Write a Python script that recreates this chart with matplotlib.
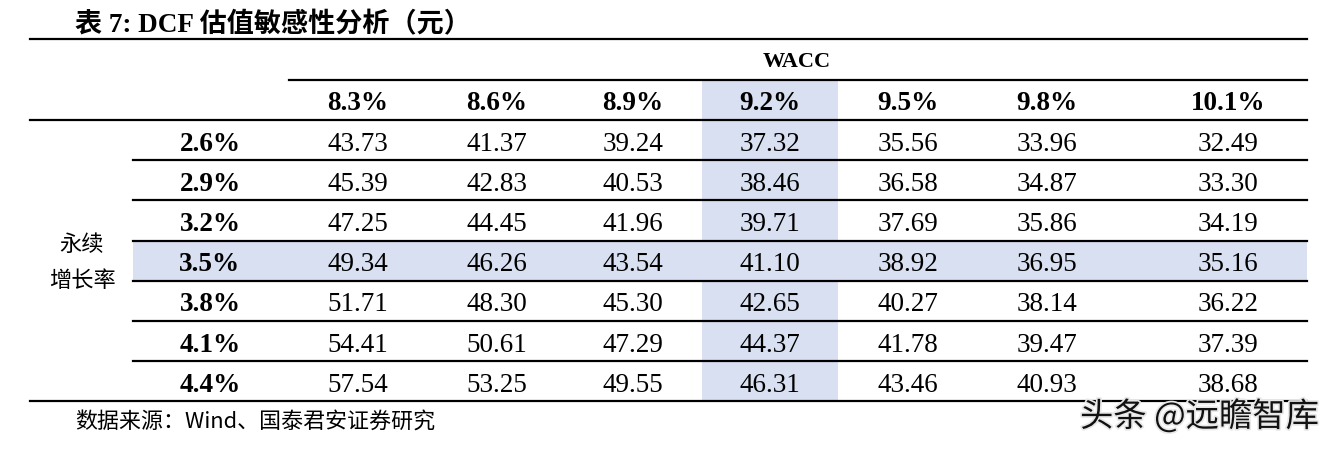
import matplotlib
matplotlib.use("Agg")
import matplotlib.pyplot as plt
from matplotlib.patches import Rectangle
import matplotlib.patheffects as pe

# ---- data ----
wacc_labels = ["8.3%", "8.6%", "8.9%", "9.2%", "9.5%", "9.8%", "10.1%"]
growth_labels = ["2.6%", "2.9%", "3.2%", "3.5%", "3.8%", "4.1%", "4.4%"]
values = [
    [43.73, 41.37, 39.24, 37.32, 35.56, 33.96, 32.49],
    [45.39, 42.83, 40.53, 38.46, 36.58, 34.87, 33.30],
    [47.25, 44.45, 41.96, 39.71, 37.69, 35.86, 34.19],
    [49.34, 46.26, 43.54, 41.10, 38.92, 36.95, 35.16],
    [51.71, 48.30, 45.30, 42.65, 40.27, 38.14, 36.22],
    [54.41, 50.61, 47.29, 44.37, 41.78, 39.47, 37.39],
    [57.54, 53.25, 49.55, 46.31, 43.46, 40.93, 38.68],
]
title = "表 7: DCF 估值敏感性分析（元）"
col_title = "WACC"
row_title = "永续\n增长率"
source = "数据来源：Wind、国泰君安证券研究"
watermark = "头条 @远瞻智库"
hl_row, hl_col = 3, 3

# ---- layout (pixel space) ----
W, H = 1338, 452
fig = plt.figure(figsize=(W / 100, H / 100), dpi=100)
ax = fig.add_axes([0, 0, 1, 1])
ax.set_xlim(0, W)
ax.set_ylim(H, 0)
ax.axis("off")

serif = ["Liberation Serif", "Noto Sans CJK SC"]
cjk = ["Noto Sans CJK SC", "DejaVu Sans"]

col_edges = [289, 425, 565, 702, 838, 978, 1117, 1307]
col_centers = [358, 497, 633, 770, 908, 1047, 1228]
row_top = 121
row_h = 40.2
left, right = 30, 1307
row_left = 133
label_x = 210
bg = "#D9E0F1"
fs = 19.5

# highlights
ax.add_patch(Rectangle((col_edges[hl_col], 81), col_edges[hl_col + 1] - col_edges[hl_col],
                       row_top + row_h * len(growth_labels) - 81, color=bg, lw=0, zorder=0))
ax.add_patch(Rectangle((row_left, row_top + row_h * hl_row), right - row_left, row_h,
                       color=bg, lw=0, zorder=0))

# title
ax.text(75, 25, title, fontsize=19.5, fontweight="bold", family=serif, va="center", ha="left")

# rules
ax.plot([left, right], [40, 40], color="black", lw=1.6)
ax.plot([col_edges[0], right], [81, 81], color="black", lw=1.6)
ax.plot([left, right], [row_top, row_top], color="black", lw=1.6)
for i in range(1, len(growth_labels)):
    y = row_top + row_h * i
    ax.plot([row_left, right], [y, y], color="black", lw=1.6)
yb = row_top + row_h * len(growth_labels)
ax.plot([left, right], [yb, yb], color="black", lw=1.6)

# header
ax.text(797, 62, col_title, fontsize=16, fontweight="bold", family=serif, ha="center", va="center")
for j, lab in enumerate(wacc_labels):
    ax.text(col_centers[j], 104, lab, fontsize=fs, fontweight="bold", family=serif,
            ha="center", va="center")

# body
for i, g in enumerate(growth_labels):
    yc = row_top + row_h * (i + 0.5)
    ax.text(label_x, yc + 3, g, fontsize=fs, fontweight="bold", family=serif, ha="center", va="center")
    for j, v in enumerate(values[i]):
        ax.text(col_centers[j], yc + 3, f"{v:.2f}", fontsize=fs, family=serif,
                ha="center", va="center")

ax.text(82, row_top + row_h * 3.5 + 1, row_title, fontsize=16, family=cjk, ha="center", va="center",
        linespacing=1.7)

# footer
ax.text(75, 422, source, fontsize=15.8, family=cjk, ha="left", va="center")
ax.text(1080, 418, watermark, fontsize=24, family=cjk, ha="left", va="center", color="#111111",
        path_effects=[pe.withStroke(linewidth=2.5, foreground="#e8e8e8")])

fig.savefig("out.png", dpi=100)
